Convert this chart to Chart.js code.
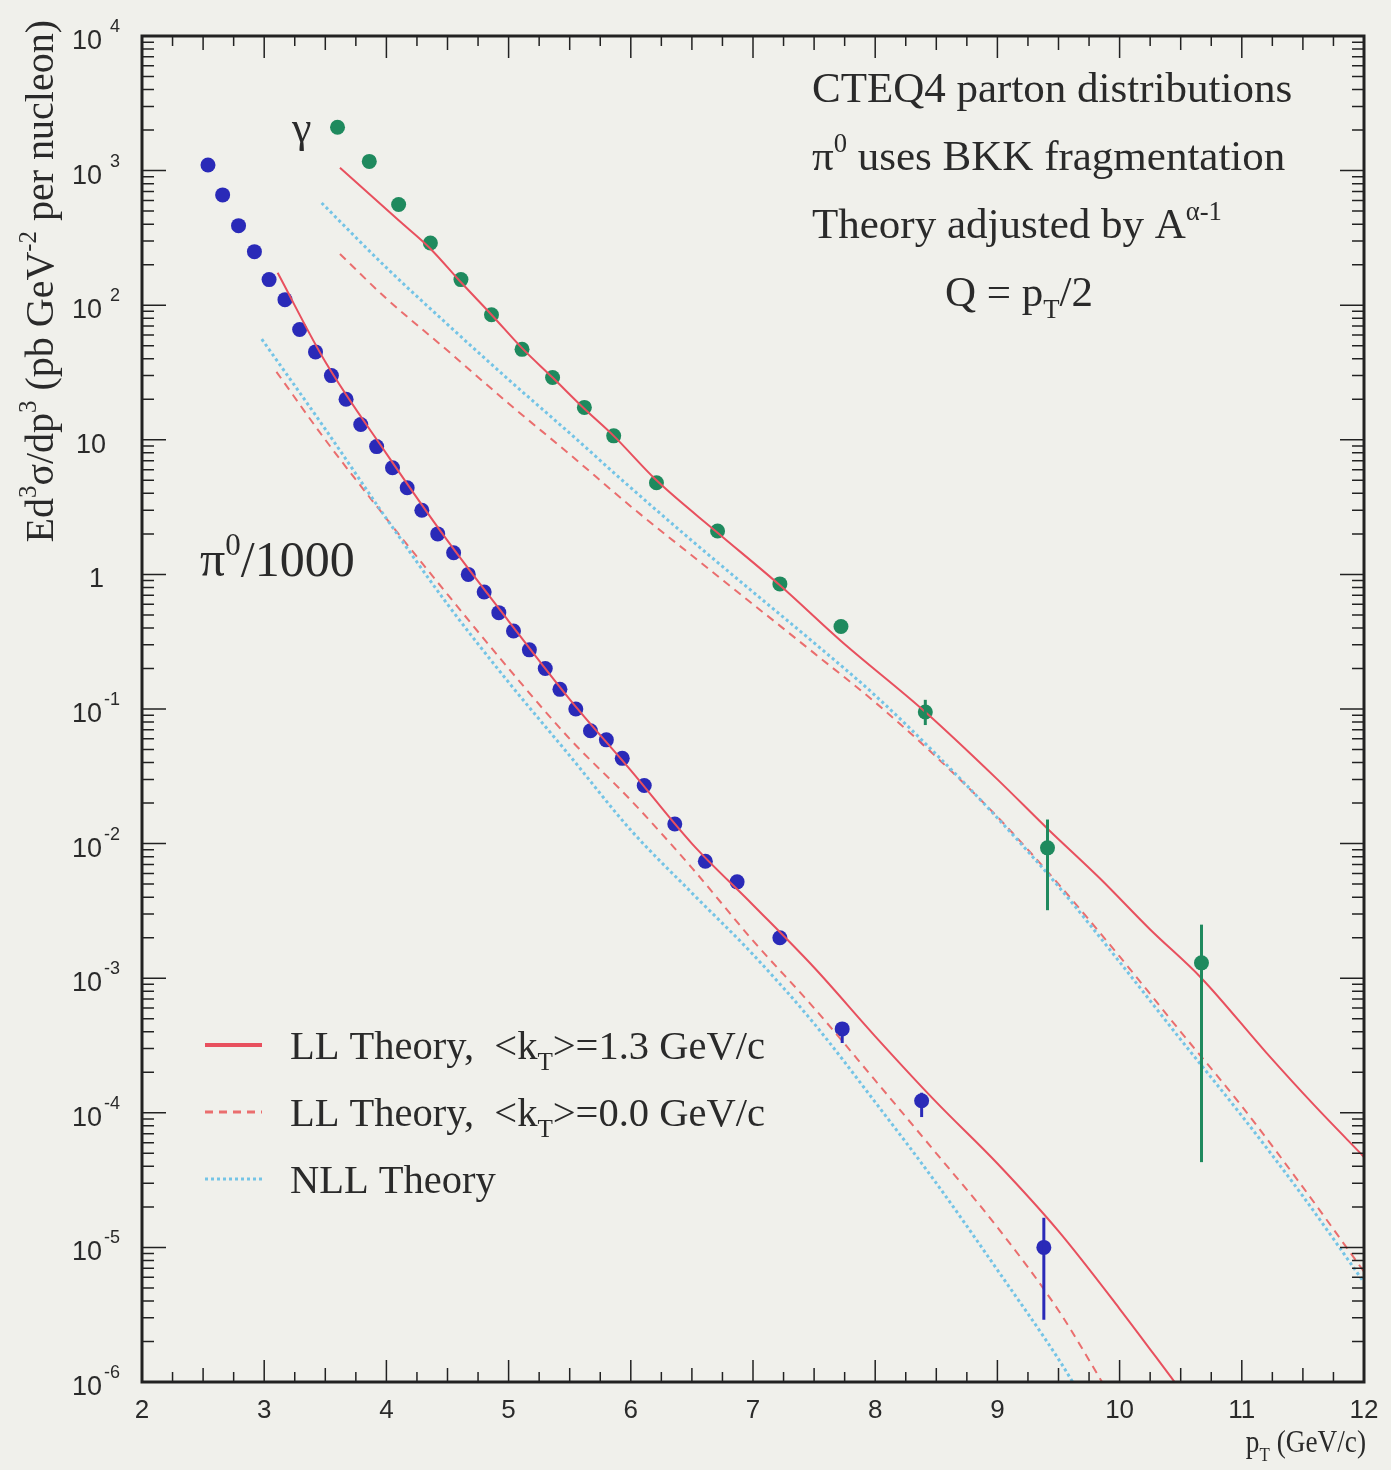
<!DOCTYPE html>
<html>
<head>
<meta charset="utf-8">
<script src="https://cdn.jsdelivr.net/npm/chart.js@4.4.0/dist/chart.umd.min.js"></script>
<style>
  body { margin: 0; background: #f0f0eb; }
  canvas { display: block; }
</style>
</head>
<body>
<canvas id="grafica" width="1391" height="1470"></canvas>
<script>
// Datos medidos: pi0 (dividido por 1000) y fotones directos
const pi0X = [2.54, 2.66, 2.79, 2.92, 3.04, 3.17, 3.29, 3.42, 3.55, 3.67, 3.79, 3.92, 4.05, 4.17, 4.29, 4.42, 4.55, 4.67,
    4.80, 4.92, 5.04, 5.17, 5.30, 5.42, 5.55, 5.67, 5.80, 5.93, 6.11, 6.36, 6.61, 6.87, 7.22, 7.73, 8.38, 9.38];
const pi0Y = [1100, 660, 390, 250, 155, 110, 66, 45, 30, 20, 13, 8.9, 6.2, 4.4, 3.0, 2.0, 1.45, 1.0,
    0.74, 0.52, 0.38, 0.275, 0.20, 0.14, 0.10, 0.069, 0.059, 0.043, 0.027, 0.014, 0.0074, 0.0052, 0.0020, 4.2e-4, 1.23e-4, 1.0e-5];
const pi0ErrX = [7.73, 8.38, 9.38];
const pi0ErrLo = [3.3e-4, 9.3e-5, 2.9e-6];
const pi0ErrHi = [4.2e-4, 1.41e-4, 1.66e-5];

const gamX = [3.60, 3.86, 4.10, 4.36, 4.61, 4.86, 5.11, 5.36, 5.62, 5.86, 6.21, 6.71, 7.22, 7.72, 8.41, 9.41, 10.67];
const gamY = [2100, 1170, 560, 290, 155, 85, 47, 29, 17.4, 10.7, 4.8, 2.1, 0.85, 0.41, 0.095, 0.0093, 0.0013];
const gamErrX = [8.41, 9.41, 10.67];
const gamErrLo = [0.076, 0.0032, 4.3e-5];
const gamErrHi = [0.117, 0.0151, 0.0025];

// Curvas teoricas
const piLL13X = [3.11, 3.5, 4.0, 4.5, 5.0, 5.5, 6.0, 6.5, 7.0, 7.5, 8.0, 8.5, 9.0, 9.5, 10.0, 10.45];
const piLL13Y = [174, 38, 7.9, 1.78, 0.45, 0.118, 0.035, 0.010, 0.0035, 0.0012, 3.7e-4, 1.2e-4, 4.2e-5, 1.32e-5, 3.5e-6, 1.0e-6];
const piLL00X = [3.1, 3.5, 4.0, 4.5, 5.0, 5.5, 6.0, 6.5, 7.0, 7.5, 8.0, 8.5, 9.0, 9.5, 9.9];
const piLL00Y = [32, 10, 2.6, 0.71, 0.20, 0.060, 0.021, 0.0066, 0.0019, 6.0e-4, 1.74e-4, 5.0e-5, 1.41e-5, 3.4e-6, 8.6e-7];
const piNLLX = [2.98, 3.5, 4.0, 4.5, 5.0, 5.5, 6.0, 6.5, 7.0, 7.5, 8.0, 8.5, 9.0, 9.5, 9.65];
const piNLLY = [56, 12, 2.6, 0.60, 0.158, 0.045, 0.0126, 0.0043, 0.0015, 4.6e-4, 1.2e-4, 3.0e-5, 6.8e-6, 1.48e-6, 8.9e-7];

const gamLL13X = [3.62, 4.1, 4.36, 4.61, 4.86, 5.11, 5.36, 5.62, 5.86, 6.21, 6.71, 7.22, 7.72, 8.41, 9.0, 9.41, 9.84, 10.25, 10.67, 11.2, 11.6, 12.0];
const gamLL13Y = [1050, 427, 263, 148, 85, 48, 29, 17, 10.7, 5.0, 2.04, 0.83, 0.32, 0.095, 0.030, 0.0129, 0.0055, 0.0023, 0.0010, 2.8e-4, 1.12e-4, 4.7e-5];
const gamLL00X = [3.62, 4.0, 4.5, 5.0, 5.5, 6.0, 6.5, 7.0, 7.5, 8.0, 8.5, 9.0, 9.5, 10.0, 10.5, 11.0, 11.5, 12.0];
const gamLL00Y = [240, 112, 46, 18.6, 7.8, 3.2, 1.38, 0.60, 0.26, 0.112, 0.044, 0.0158, 0.0050, 0.00145, 4.0e-4, 1.12e-4, 2.8e-5, 6.6e-6];
const gamNLLX = [3.47, 4.0, 4.5, 5.0, 5.5, 6.0, 6.5, 7.0, 7.5, 8.0, 8.5, 9.0, 9.5, 10.0, 10.5, 11.0, 11.5, 12.0];
const gamNLLY = [575, 190, 72, 28, 11.2, 4.4, 1.78, 0.74, 0.31, 0.126, 0.046, 0.0155, 0.0048, 0.00132, 3.5e-4, 9.5e-5, 2.4e-5, 5.5e-6];

const xTicks = [2, 3, 4, 5, 6, 7, 8, 9, 10, 11, 12];
const yExponents = [4, 3, 2, 1, 0, -1, -2, -3, -4, -5, -6];

const ROJO = '#e8505e';
const ROJO_CLARO = '#ea6e6e';
const CIAN = '#74c4e6';
const AZUL = '#2a2ab8';
const VERDE = '#1f8a5e';
const TEXTO = '#2a2a2a';
const SERIF = '"Liberation Serif", "DejaVu Serif", serif';
const SANS = '"Liberation Sans", Arial, sans-serif';

function pares(xs, ys) {
    return xs.map((x, i) => ({ x: x, y: ys[i] }));
}

function curva(xs, ys, color, dash, width) {
    return {
        data: pares(xs, ys),
        showLine: true,
        borderColor: color,
        borderWidth: width,
        borderDash: dash,
        pointRadius: 0,
        cubicInterpolationMode: 'monotone',
        fill: false
    };
}

function puntos(xs, ys, color) {
    return {
        data: pares(xs, ys),
        showLine: false,
        pointRadius: 7.5,
        pointBackgroundColor: color,
        pointBorderColor: color,
        pointBorderWidth: 0
    };
}

// Texto con superindices / subindices: [texto, 'n' | 'sup' | 'sub']
function textoRico(ctx, partes, x, y, size, family, medir) {
    let cx = x;
    for (const [t, modo] of partes) {
        const s = modo === 'n' ? size : size * 0.62;
        ctx.font = s + 'px ' + family;
        let dy = 0;
        if (modo === 'sup') dy = -size * 0.42;
        if (modo === 'sub') dy = size * 0.28;
        if (!medir) ctx.fillText(t, cx, y + dy);
        cx += ctx.measureText(t).width;
    }
    return cx - x;
}

const fondoPlugin = {
    id: 'fondo',
    beforeDraw(chart) {
        const c = chart.ctx;
        c.save();
        c.fillStyle = '#f0f0eb';
        c.fillRect(0, 0, chart.width, chart.height);
        c.restore();
    }
};

const errorPlugin = {
    id: 'errores',
    afterDatasetsDraw(chart) {
        const c = chart.ctx;
        const xs = chart.scales.x, ys = chart.scales.y;
        c.save();
        c.lineWidth = 3;
        const dibujar = (X, lo, hi, color) => {
            c.strokeStyle = color;
            X.forEach((x, i) => {
                const px = xs.getPixelForValue(x);
                c.beginPath();
                c.moveTo(px, ys.getPixelForValue(lo[i]));
                c.lineTo(px, ys.getPixelForValue(hi[i]));
                c.stroke();
            });
        };
        dibujar(pi0ErrX, pi0ErrLo, pi0ErrHi, AZUL);
        dibujar(gamErrX, gamErrLo, gamErrHi, VERDE);
        c.restore();
    }
};

const marcoPlugin = {
    id: 'marco',
    afterDraw(chart) {
        const c = chart.ctx;
        const a = chart.chartArea;
        const xs = chart.scales.x, ys = chart.scales.y;
        c.save();
        c.strokeStyle = '#222';
        c.lineWidth = 1.5;

        // ticks del eje x (arriba y abajo, hacia dentro)
        for (let v = 2; v <= 12.001; v += 0.25) {
            const px = xs.getPixelForValue(v);
            const mayor = Math.abs(v - Math.round(v)) < 1e-6;
            const L = mayor ? 22 : (Math.abs(v % 1 - 0.5) < 1e-6 ? 14 : 10);
            c.beginPath();
            c.moveTo(px, a.bottom); c.lineTo(px, a.bottom - L);
            c.moveTo(px, a.top); c.lineTo(px, a.top + L);
            c.stroke();
        }
        // ticks del eje y logaritmico
        for (let e = -6; e <= 4; e++) {
            for (let m = 1; m <= 9; m++) {
                const v = m * Math.pow(10, e);
                if (v > 1e4 * 1.0001) continue;
                const py = ys.getPixelForValue(v);
                const L = m === 1 ? 24 : 12;
                c.beginPath();
                c.moveTo(a.left, py); c.lineTo(a.left + L, py);
                c.moveTo(a.right, py); c.lineTo(a.right - L, py);
                c.stroke();
            }
        }
        // marco
        c.lineWidth = 3;
        c.strokeRect(a.left, a.top, a.right - a.left, a.bottom - a.top);

        // etiquetas eje x
        c.fillStyle = TEXTO;
        c.font = '26px ' + SANS;
        c.textAlign = 'center';
        c.textBaseline = 'alphabetic';
        xTicks.forEach(v => c.fillText(String(v), xs.getPixelForValue(v), a.bottom + 36));

        // etiquetas eje y
        yExponents.forEach(e => {
            const py = ys.getPixelForValue(Math.pow(10, e));
            c.textAlign = 'right';
            c.font = '27px ' + SANS;
            if (e === 0) {
                c.fillText('1', 104, py + 13);
            } else if (e === 1) {
                c.fillText('10', 106, py + 13);
            } else {
                c.fillText('10', 102, py + 13);
                c.textAlign = 'left';
                c.font = '18px ' + SANS;
                c.fillText(String(e), e < 0 ? 104 : 110, py - 4);
            }
        });

        // titulo eje y (rotado)
        c.textAlign = 'left';
        const tituloY = [['Ed', 'n'], ['3', 'sup'], ['σ/dp', 'n'], ['3', 'sup'], [' (pb GeV', 'n'], ['-2', 'sup'], [' per nucleon)', 'n']];
        const w = textoRico(c, tituloY, 0, 0, 40, SERIF, true);
        c.save();
        c.translate(53, 20 + w);
        c.rotate(-Math.PI / 2);
        textoRico(c, tituloY, 0, 0, 40, SERIF, false);
        c.restore();

        // titulo eje x (letra algo estrecha)
        const tituloX = [['p', 'n'], ['T', 'sub'], [' (GeV/c)', 'n']];
        const wx = textoRico(c, tituloX, 0, 0, 31, SERIF, true) * 0.88;
        c.save();
        c.translate(1366 - wx, 1452);
        c.scale(0.88, 1);
        textoRico(c, tituloX, 0, 0, 31, SERIF, false);
        c.restore();

        // rotulos de las series
        c.font = '44px ' + SERIF;
        c.fillText('γ', 292, 142);
        textoRico(c, [['π', 'n'], ['0', 'sup'], ['/1000', 'n']], 200, 576, 50, SERIF, false);

        // texto de la esquina superior derecha
        textoRico(c, [['CTEQ4 parton distributions', 'n']], 812, 102, 43, SERIF, false);
        textoRico(c, [['π', 'n'], ['0', 'sup'], [' uses BKK fragmentation', 'n']], 812, 170, 43, SERIF, false);
        textoRico(c, [['Theory adjusted by A', 'n'], ['α-1', 'sup']], 812, 238, 43, SERIF, false);
        textoRico(c, [['Q = p', 'n'], ['T', 'sub'], ['/2', 'n']], 945, 306, 43, SERIF, false);

        // leyenda
        const leyenda = [
            { color: ROJO, dash: [], w: 4, partes: [['LL Theory,  <k', 'n'], ['T', 'sub'], ['>=1.3 GeV/c', 'n']] },
            { color: ROJO_CLARO, dash: [8, 6], w: 3, partes: [['LL Theory,  <k', 'n'], ['T', 'sub'], ['>=0.0 GeV/c', 'n']] },
            { color: CIAN, dash: [3, 3], w: 3, partes: [['NLL Theory', 'n']] }
        ];
        leyenda.forEach((it, i) => {
            const y = 1045 + i * 67;
            c.strokeStyle = it.color;
            c.lineWidth = it.w;
            c.setLineDash(it.dash);
            c.beginPath();
            c.moveTo(205, y); c.lineTo(262, y);
            c.stroke();
            c.setLineDash([]);
            c.fillStyle = TEXTO;
            textoRico(c, it.partes, 290, y + 14, 40.5, SERIF, false);
        });
        c.restore();
    }
};

const ctx = document.getElementById('grafica').getContext('2d');
const grafica = new Chart(ctx, {
    type: 'scatter',
    data: {
        datasets: [
            curva(piNLLX, piNLLY, CIAN, [3, 3], 3),
            curva(piLL00X, piLL00Y, ROJO_CLARO, [8, 6], 2),
            curva(piLL13X, piLL13Y, ROJO, [], 2),
            curva(gamNLLX, gamNLLY, CIAN, [3, 3], 3),
            curva(gamLL00X, gamLL00Y, ROJO_CLARO, [8, 6], 2),
            curva(gamLL13X, gamLL13Y, ROJO, [], 2),
            puntos(pi0X, pi0Y, AZUL),
            puntos(gamX, gamY, VERDE)
        ]
    },
    options: {
        responsive: false,
        animation: false,
        layout: { padding: { top: 36, right: 27, left: 0, bottom: 0 } },
        plugins: {
            legend: { display: false },
            tooltip: { enabled: false }
        },
        scales: {
            x: {
                type: 'linear',
                min: 2,
                max: 12,
                grid: { display: false },
                border: { display: false },
                ticks: { display: false },
                afterFit: s => { s.height = 88; }
            },
            y: {
                type: 'logarithmic',
                min: 1e-6,
                max: 1e4,
                grid: { display: false },
                border: { display: false },
                ticks: { display: false },
                afterFit: s => { s.width = 142; }
            }
        }
    },
    plugins: [fondoPlugin, errorPlugin, marcoPlugin]
});
</script>
</body>
</html>
